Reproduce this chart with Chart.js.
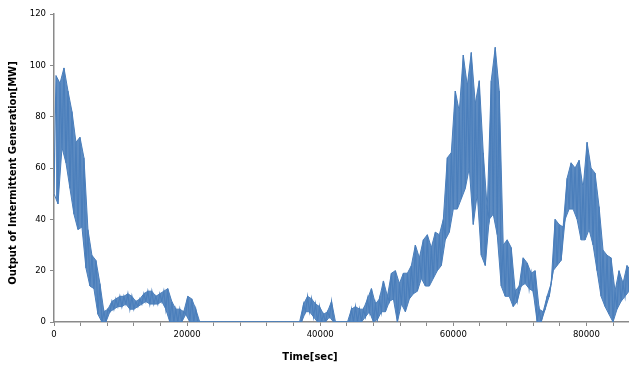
<!DOCTYPE html>
<html lang="en">
<head>
    <meta charset="UTF-8">
    <title>Intermittent Generation</title>
    <script src="https://cdn.jsdelivr.net/npm/chart.js"></script>
    <style>
        body { margin: 0; background: #ffffff; }
        #wrap { width: 629px; height: 365px; position: relative; }
    </style>
</head>
<body>
<div id="wrap"><canvas id="genChart"></canvas></div>
<script>
    // readings taken every 600 s: lowest and highest output in each slot [MW]
    const sampleStepSec = 600;
    const highMW = [
        96, 93, 99, 90, 82, 70, 72, 64, 36, 26,
        24, 15, 4, 5, 8, 9, 10, 10, 11, 10,
        8, 9, 11, 12, 12, 10, 11, 12, 13, 8,
        5, 5, 4, 10, 9, 5, 0, 0, 0, 0,
        0, 0, 0, 0, 0, 0, 0, 0, 0, 0,
        0, 0, 0, 0, 0, 0, 0, 0, 0, 0,
        0, 0, 7, 10, 9, 7, 6, 3, 4, 8,
        0, 0, 0, 0, 5, 6, 5, 5, 9, 13,
        7, 9, 16, 10, 19, 20, 15, 19, 19, 22,
        30, 25, 32, 34, 29, 35, 34, 40, 64, 66,
        90, 82, 104, 92, 105, 85, 94, 66, 44, 94,
        107, 90, 30, 32, 29, 12, 14, 25, 23, 19,
        20, 5, 4, 10, 15, 40, 38, 37, 56, 62,
        60, 63, 52, 70, 60, 58, 45, 28, 26, 25,
        12, 20, 15, 22, 20
    ];
    const lowMW = [
        50, 46, 68, 62, 52, 42, 36, 37, 21, 14,
        13, 3, 0, 0, 4, 5, 6, 6, 7, 5,
        5, 6, 7, 8, 7, 7, 7, 8, 5, 0,
        0, 0, 0, 3, 0, 0, 0, 0, 0, 0,
        0, 0, 0, 0, 0, 0, 0, 0, 0, 0,
        0, 0, 0, 0, 0, 0, 0, 0, 0, 0,
        0, 0, 0, 4, 4, 2, 0, 0, 0, 2,
        0, 0, 0, 0, 0, 0, 0, 0, 2, 4,
        0, 1, 4, 4, 8, 9, 0, 7, 4, 9,
        11, 12, 17, 14, 14, 17, 20, 22, 32, 35,
        44, 44, 48, 52, 60, 38, 50, 26, 22, 40,
        42, 34, 14, 10, 10, 6, 8, 14, 15, 13,
        12, 0, 0, 5, 10, 20, 22, 24, 40, 44,
        44, 40, 32, 32, 36, 30, 20, 10, 6, 3,
        0, 5, 8, 10, 12
    ];
    const xTicks = [0, 4000, 8000, 12000, 16000, 20000, 24000, 28000, 32000, 36000, 40000,
        44000, 48000, 52000, 56000, 60000, 64000, 68000, 72000, 76000, 80000, 84000];
    const xLabelStep = 20000;
    const yTicks = [0, 20, 40, 60, 80, 100, 120];

    const axisGray = '#8a8a8a';
    const lineBlue = '#4a7ebb';

    // low and high readings as their own lines, plus a zig-zag between them
    const lowPts = lowMW.map((v, k) => ({ x: k * sampleStepSec, y: v }));
    const highPts = highMW.map((v, k) => ({ x: k * sampleStepSec + sampleStepSec / 2, y: v }));
    const zigzag = [];
    lowPts.forEach((p, k) => { zigzag.push(p); zigzag.push(highPts[k]); });

    // axis titles drawn by hand so they sit where the original has them
    const axisTitles = {
        id: 'axisTitles',
        afterDraw(chart) {
            const c = chart.ctx;
            c.save();
            c.fillStyle = '#000000';
            c.font = 'bold 10px "DejaVu Sans"';
            c.textAlign = 'center';
            c.textBaseline = 'middle';
            c.fillText('Time[sec]', 310, 357);
            c.translate(13, 173);
            c.rotate(-Math.PI / 2);
            c.fillText('Output of Intermittent Generation[MW]', 0, 0);
            c.restore();
        }
    };

    const tickFont = { family: 'DejaVu Sans', size: 8.5 };
    const lineStyle = { borderColor: lineBlue, borderWidth: 1, pointRadius: 0, tension: 0 };

    new Chart(document.getElementById('genChart'), {
        type: 'line',
        data: {
            datasets: [
                Object.assign({ data: lowPts, fill: false }, lineStyle),
                Object.assign({ data: highPts, fill: '-1', backgroundColor: 'rgba(74,126,187,0.9)' }, lineStyle),
                Object.assign({ data: zigzag, fill: false }, lineStyle, { borderWidth: 1.2 })
            ]
        },
        options: {
            responsive: true,
            maintainAspectRatio: false,
            animation: false,
            layout: { padding: { top: 14, right: 0, left: 0, bottom: 0 } },
            plugins: { legend: { display: false }, tooltip: { enabled: false } },
            scales: {
                x: {
                    type: 'linear',
                    min: 0,
                    max: 86400,
                    afterBuildTicks: s => {
                        s.ticks = xTicks.map(v => ({ value: v }));
                    },
                    afterFit: s => { s.height = 43; },
                    border: { color: axisGray, width: 1.5 },
                    grid: { drawOnChartArea: false, color: axisGray, tickLength: 4, lineWidth: 1 },
                    ticks: {
                        autoSkip: false,
                        maxRotation: 0,
                        padding: 4,
                        color: '#000000',
                        font: tickFont,
                        callback: v => (v % xLabelStep === 0 ? String(v) : '')
                    }
                },
                y: {
                    min: 0,
                    max: 120,
                    afterBuildTicks: s => {
                        s.ticks = yTicks.map(v => ({ value: v }));
                    },
                    afterFit: s => { s.width = 54; },
                    border: { color: axisGray, width: 1.5 },
                    grid: { drawOnChartArea: false, color: axisGray, tickLength: 4, lineWidth: 1 },
                    ticks: {
                        padding: 4,
                        color: '#000000',
                        font: tickFont,
                        callback: v => String(v)
                    }
                }
            }
        },
        plugins: [axisTitles]
    });
</script>
</body>
</html>
